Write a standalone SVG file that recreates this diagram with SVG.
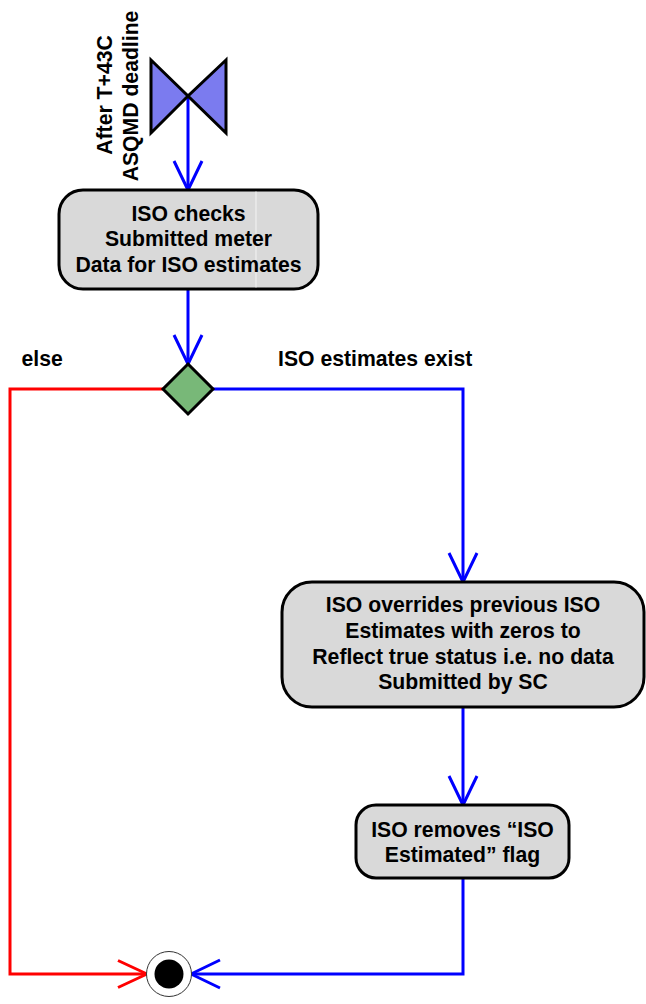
<svg xmlns="http://www.w3.org/2000/svg" width="646" height="1004" viewBox="0 0 646 1004">
<defs>
<style>
.t{font-family:"Liberation Sans",Arial,sans-serif;font-weight:bold;font-size:21.2px;fill:#000;}
.c{text-anchor:middle;}
.box{fill:#d9d9d9;stroke:#000;stroke-width:3;}
.blue{fill:none;stroke:#0000ff;stroke-width:3;}
.red{fill:none;stroke:#ff0000;stroke-width:3;}
</style>
<marker id="ab" markerUnits="userSpaceOnUse" markerWidth="34" markerHeight="34" viewBox="0 0 34 34" refX="31" refY="17" orient="auto">
<path d="M2,3 L31,17 L2,31" fill="none" stroke="#0000ff" stroke-width="3" stroke-linejoin="round"/>
</marker>
<marker id="ar" markerUnits="userSpaceOnUse" markerWidth="34" markerHeight="34" viewBox="0 0 34 34" refX="31" refY="17" orient="auto">
<path d="M2,3.5 L31,17 L2,30.5" fill="none" stroke="#ff0000" stroke-width="3" stroke-linejoin="round"/>
</marker>
</defs>
<rect width="646" height="1004" fill="#fff"/>

<g id="connectors">
<path class="blue" d="M188,96 V190" marker-end="url(#ab)"/>
<path class="blue" d="M188,289 V364" marker-end="url(#ab)"/>
<path class="red" d="M163,389 H10 V974 H147" marker-end="url(#ar)"/>
<path class="blue" d="M213,389 H463 V582" marker-end="url(#ab)"/>
<path class="blue" d="M463,707 V805" marker-end="url(#ab)"/>
<path class="blue" d="M463,878 V974 H191" marker-end="url(#ab)"/>
</g>

<g id="start">
<polygon points="151,60 188,96 151,133" fill="#7b7bef" stroke="#000" stroke-width="3" stroke-linejoin="miter"/>
<polygon points="226,60 188,96 226,133" fill="#7b7bef" stroke="#000" stroke-width="3" stroke-linejoin="miter"/>
<text class="t c" transform="translate(111.5,95) rotate(-90)">After T+43C</text>
<text class="t c" transform="translate(137.5,96) rotate(-90)">ASQMD deadline</text>
</g>

<g id="check">
<rect class="box" x="59" y="190" width="259" height="99" rx="24" ry="24"/>
<line x1="256" y1="191.5" x2="256" y2="287.5" stroke="#f4f4f4" stroke-width="1"/>
<text class="t c" x="188.5" y="220.5">ISO checks</text>
<text class="t c" x="188.5" y="246">Submitted meter</text>
<text class="t c" x="188.5" y="272">Data for ISO estimates</text>
</g>

<g id="decision">
<polygon points="188,364 213,389 188,414 163,389" fill="#78b878" stroke="#000" stroke-width="3"/>
<text class="t" x="21.5" y="366">else</text>
<text class="t" x="278" y="366">ISO estimates exist</text>
</g>

<g id="override">
<rect class="box" x="282" y="582" width="362" height="125" rx="30" ry="30"/>
<text class="t c" x="463" y="612">ISO overrides previous ISO</text>
<text class="t c" x="463" y="638">Estimates with zeros to</text>
<text class="t c" x="463" y="663.5">Reflect true status i.e. no data</text>
<text class="t c" x="463" y="689">Submitted by SC</text>
</g>

<g id="remove">
<rect class="box" x="356" y="805" width="213" height="73" rx="20" ry="20"/>
<text class="t c" x="462.5" y="836.5">ISO removes “ISO</text>
<text class="t c" x="462.5" y="862">Estimated” flag</text>
</g>

<g id="end">
<circle cx="169" cy="974" r="22.5" fill="#fff" stroke="#333" stroke-width="1"/>
<circle cx="169" cy="974" r="14.5" fill="#000"/>
</g>
</svg>
